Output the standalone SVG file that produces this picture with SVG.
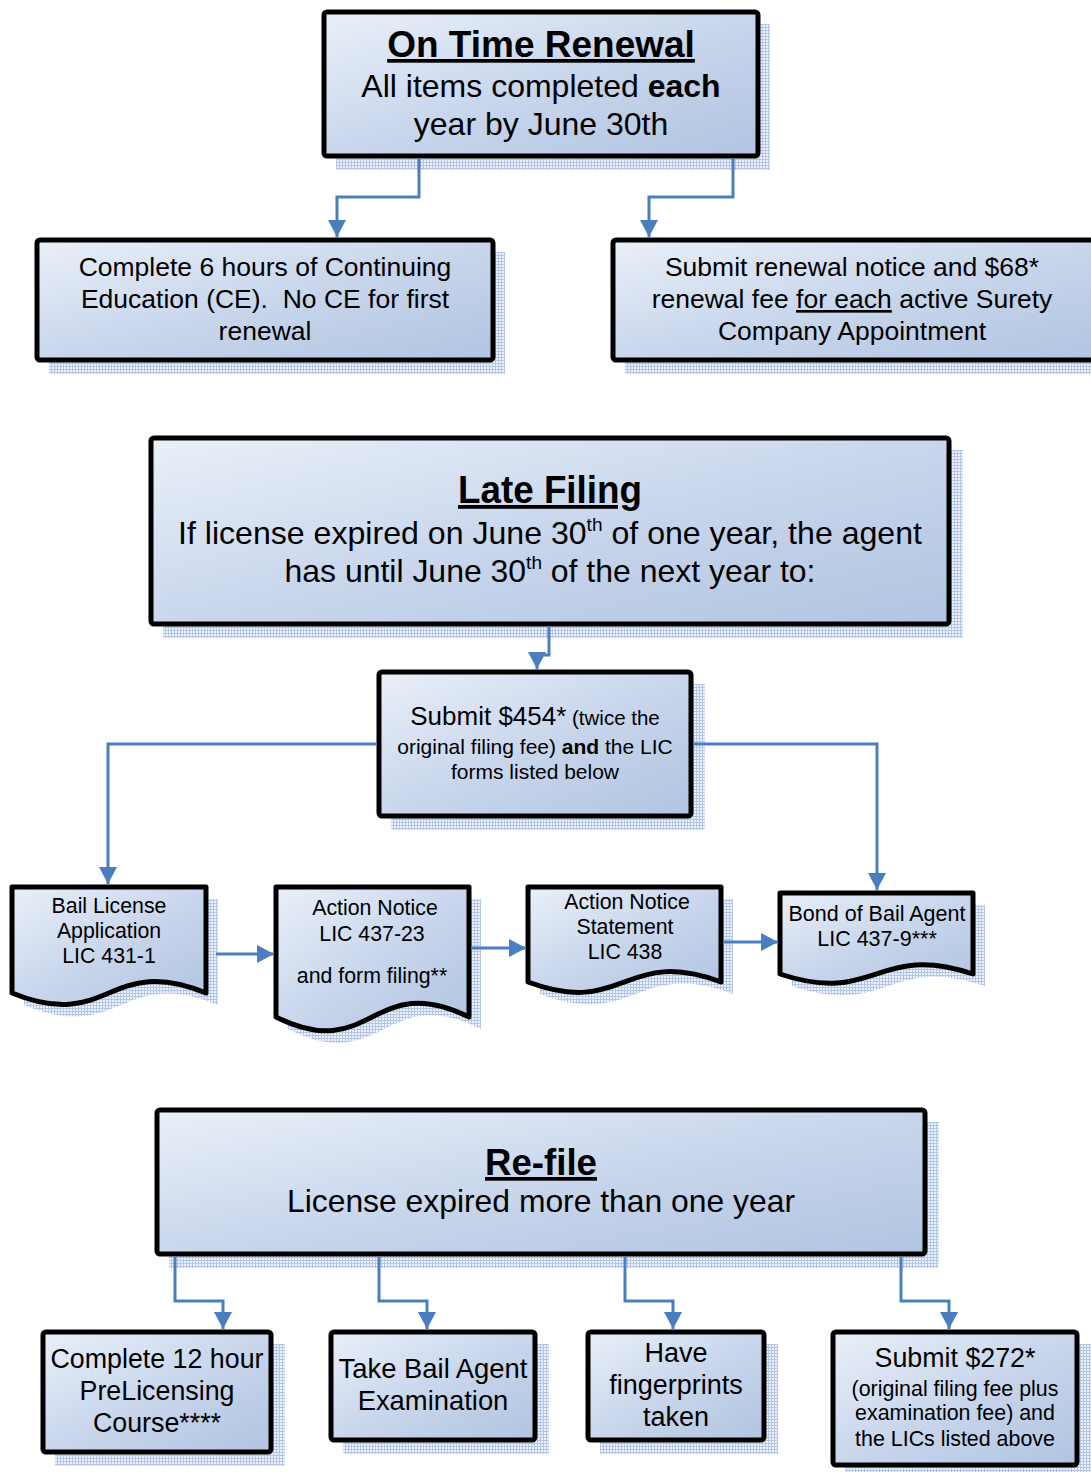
<svg xmlns="http://www.w3.org/2000/svg" width="1091" height="1472" viewBox="0 0 1091 1472">
<defs>
<linearGradient id="fill" x1="0" y1="0" x2="1" y2="1">
<stop offset="0" stop-color="#eaf0f9"/>
<stop offset="0.5" stop-color="#c9d6ec"/>
<stop offset="1" stop-color="#b1c4e1"/>
</linearGradient>
<pattern id="hatch" width="3" height="3" patternUnits="userSpaceOnUse">
<rect width="3" height="3" fill="#eef2fa"/>
<path d="M0,0.5H3M0.5,0V3" stroke="#b3c6e6" stroke-width="1"/>
</pattern>
<marker id="arr" markerUnits="userSpaceOnUse" markerWidth="18" markerHeight="18" refX="17" refY="9" orient="auto">
<path d="M0,0 L17,9 L0,18 z" fill="#4a7ebf"/>
</marker>
<style>
.box{fill:url(#fill);stroke:#000;stroke-width:5;stroke-linejoin:round}
.sh{fill:url(#hatch);stroke:none}
.t{font-family:"Liberation Sans",Arial,sans-serif;fill:#000;text-anchor:middle}
.b{font-weight:bold}
.u{text-decoration:underline}
.con{fill:none;stroke:#4a7ebf;stroke-width:3;marker-end:url(#arr)}
</style>
</defs>

<g id="on-time-renewal">
<rect class="sh" x="336" y="24" width="434" height="146"/>
<rect class="box" x="324" y="12" width="434" height="144" rx="3"/>
<text class="t b u" x="541" y="57" font-size="37">On Time Renewal</text>
<text class="t" x="541" y="97" font-size="32">All items completed <tspan class="b">each</tspan></text>
<text class="t" x="541" y="135" font-size="32">year by June 30th</text>
</g>

<g id="complete-ce">
<rect class="sh" x="49" y="252" width="456" height="122"/>
<rect class="box" x="37" y="240" width="456" height="120" rx="3"/>
<text class="t" x="265" y="276" font-size="26.5">Complete 6 hours of Continuing</text>
<text class="t" x="265" y="308" font-size="26.5" xml:space="preserve">Education (CE).  No CE for first</text>
<text class="t" x="265" y="340" font-size="26.5">renewal</text>
</g>

<g id="submit-renewal">
<rect class="sh" x="625" y="252" width="480" height="122"/>
<rect class="box" x="613" y="240" width="490" height="120" rx="3"/>
<text class="t" x="852" y="276" font-size="26.5">Submit renewal notice and $68*</text>
<text class="t" x="852" y="308" font-size="26.5">renewal fee <tspan class="u">for each</tspan> active Surety</text>
<text class="t" x="852" y="340" font-size="26.5">Company Appointment</text>
</g>

<g id="late-filing">
<rect class="sh" x="163" y="450" width="800" height="188"/>
<rect class="box" x="151" y="438" width="798" height="186" rx="3"/>
<text class="t b u" x="550" y="503" font-size="38" textLength="184" lengthAdjust="spacingAndGlyphs">Late Filing</text>
<text class="t" x="550" y="544" font-size="32" textLength="744" lengthAdjust="spacingAndGlyphs">If license expired on June 30<tspan font-size="19" dy="-13">th</tspan><tspan dy="13"> of one year, the agent</tspan></text>
<text class="t" x="550" y="582" font-size="32" textLength="531" lengthAdjust="spacingAndGlyphs">has until June 30<tspan font-size="19" dy="-13">th</tspan><tspan dy="13"> of the next year to:</tspan></text>
</g>

<g id="submit-454">
<rect class="sh" x="391" y="684" width="314" height="146"/>
<rect class="box" x="379" y="672" width="312" height="144" rx="3"/>
<text class="t" x="535" y="725" font-size="26">Submit $454*<tspan font-size="20.5"> (twice the</tspan></text>
<text class="t" x="535" y="754" font-size="21">original filing fee) <tspan class="b">and</tspan> the LIC</text>
<text class="t" x="535" y="779" font-size="21">forms listed below</text>
</g>

<g id="doc-bail-license">
<path class="sh" d="M24,899 H218 V1005 C121,965 121,1045 24,1005 Z"/>
<path class="box" d="M12,887 H206 V993 C109,953 109,1033 12,993 Z"/>
<text class="t" x="109" y="913" font-size="21.3">Bail License</text>
<text class="t" x="109" y="938" font-size="21.3">Application</text>
<text class="t" x="109" y="963" font-size="21.3">LIC 431-1</text>
</g>

<g id="doc-action-notice">
<path class="sh" d="M288,899 H481 V1029 C384,981 384,1077 288,1029 Z"/>
<path class="box" d="M276,887 H469 V1017 C372,969 372,1065 276,1017 Z"/>
<text class="t" x="375" y="915" font-size="21.3">Action Notice</text>
<text class="t" x="372" y="941" font-size="21.3">LIC 437-23</text>
<text class="t" x="372" y="983" font-size="21.3">and form filing**</text>
</g>

<g id="doc-action-statement">
<path class="sh" d="M540,899 H733 V994 C636,958 636,1030 540,994 Z"/>
<path class="box" d="M528,887 H721 V982 C624,946 624,1018 528,982 Z"/>
<text class="t" x="627" y="909" font-size="21.3">Action Notice</text>
<text class="t" x="625" y="934" font-size="21.3">Statement</text>
<text class="t" x="625" y="959" font-size="21.3">LIC 438</text>
</g>

<g id="doc-bond">
<path class="sh" d="M792,905 H985 V986 C888,954 888,1018 792,986 Z"/>
<path class="box" d="M780,893 H973 V974 C876,942 876,1006 780,974 Z"/>
<text class="t" x="877" y="921" font-size="21.5">Bond of Bail Agent</text>
<text class="t" x="877" y="946" font-size="21.5">LIC 437-9***</text>
</g>

<g id="re-file">
<rect class="sh" x="169" y="1122" width="770" height="146"/>
<rect class="box" x="157" y="1110" width="768" height="144" rx="3"/>
<text class="t b u" x="541" y="1175" font-size="37" textLength="112" lengthAdjust="spacingAndGlyphs">Re-file</text>
<text class="t" x="541" y="1212" font-size="32" textLength="508" lengthAdjust="spacingAndGlyphs">License expired more than one year</text>
</g>

<g id="prelicensing">
<rect class="sh" x="55" y="1344" width="230" height="122"/>
<rect class="box" x="43" y="1332" width="228" height="120" rx="3"/>
<text class="t" x="157" y="1368" font-size="26.8">Complete 12 hour</text>
<text class="t" x="157" y="1400" font-size="26.8">PreLicensing</text>
<text class="t" x="157" y="1432" font-size="26.8">Course****</text>
</g>

<g id="exam">
<rect class="sh" x="343" y="1344" width="206" height="110"/>
<rect class="box" x="331" y="1332" width="204" height="108" rx="3"/>
<text class="t" x="433" y="1378" font-size="27.4">Take Bail Agent</text>
<text class="t" x="433" y="1410" font-size="27.4">Examination</text>
</g>

<g id="fingerprints">
<rect class="sh" x="600" y="1344" width="178" height="110"/>
<rect class="box" x="588" y="1332" width="176" height="108" rx="3"/>
<text class="t" x="676" y="1362" font-size="27">Have</text>
<text class="t" x="676" y="1394" font-size="27">fingerprints</text>
<text class="t" x="676" y="1426" font-size="27">taken</text>
</g>

<g id="submit-272">
<rect class="sh" x="845" y="1344" width="246" height="128"/>
<rect class="box" x="833" y="1332" width="244" height="133" rx="3"/>
<text class="t" x="955" y="1367" font-size="26.8">Submit $272*</text>
<text class="t" x="955" y="1396" font-size="21.4">(original filing fee plus</text>
<text class="t" x="955" y="1420" font-size="21.4">examination fee) and</text>
<text class="t" x="955" y="1446" font-size="21.4">the LICs listed above</text>
</g>

<g id="connectors">
<path class="con" d="M419,158 V197 H337 V237"/>
<path class="con" d="M733,158 V197 H649 V237"/>
<path class="con" d="M549,626 V655 H537 V669"/>
<path class="con" d="M377,744 H108 V884"/>
<path class="con" d="M693,744 H877 V890"/>
<path class="con" d="M216,954 H274"/>
<path class="con" d="M471,948 H526"/>
<path class="con" d="M723,942 H778"/>
<path class="con" d="M175,1256 V1301 H223 V1329"/>
<path class="con" d="M379,1256 V1301 H427 V1329"/>
<path class="con" d="M625,1256 V1301 H673 V1329"/>
<path class="con" d="M901,1256 V1301 H949 V1329"/>
</g>
</svg>
